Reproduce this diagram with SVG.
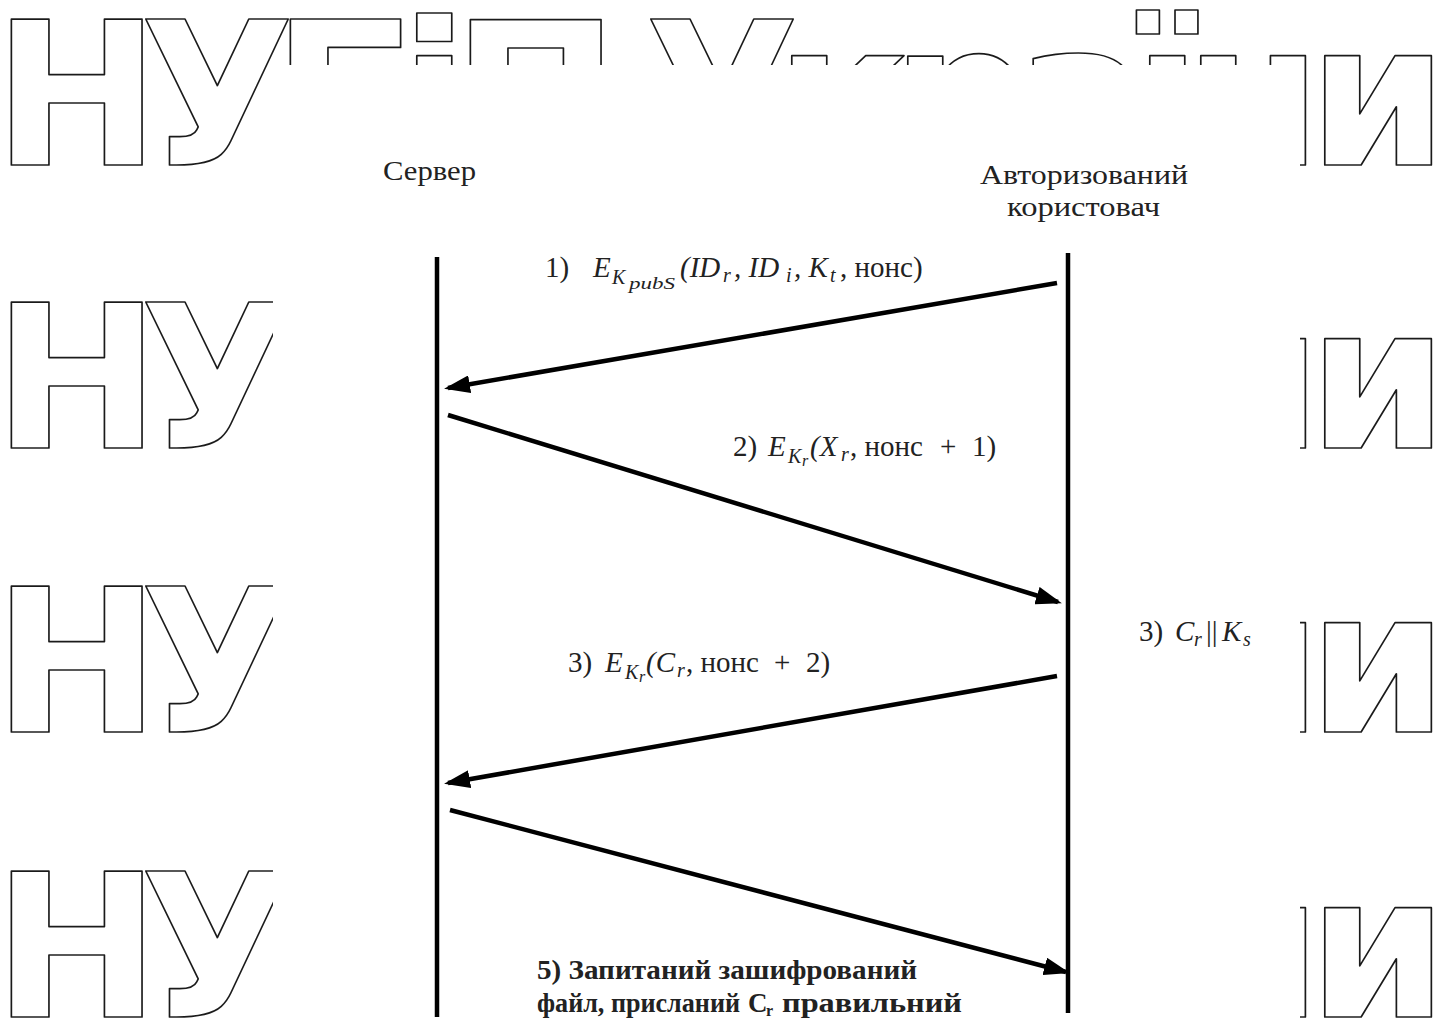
<svg xmlns="http://www.w3.org/2000/svg" width="1453" height="1023" viewBox="0 0 1453 1023">
<style>
.wm{font-family:"DejaVu Sans",sans-serif;font-weight:bold;font-size:200px;fill:none;stroke:#1a1a1a;stroke-width:1.7;stroke-linejoin:round}
.t{font-family:"Liberation Serif",serif;font-size:27px;fill:#222}
.m{font-family:"Liberation Serif",serif;font-size:29px;fill:#222}
.i{font-style:italic}
.s{font-size:20px}
.ss{font-size:16px}
.b{font-weight:bold}
.ll{stroke:#000;stroke-width:4.5;fill:none}
.ar{stroke:#000;stroke-width:4.5;fill:none;marker-end:url(#ah)}
</style>
<defs>
<marker id="ah" markerUnits="userSpaceOnUse" markerWidth="26" markerHeight="18" refX="22" refY="9" orient="auto">
<path d="M0,0 L26,9 L0,18 z" fill="#000"/>
</marker>
<clipPath id="wmclip">
<path clip-rule="evenodd" d="M0,0H1453V1023H0Z M273,65V1023H1300V65Z"/>
</clipPath>
</defs>
<rect width="1453" height="1023" fill="#fff"/>
<g id="watermark" clip-path="url(#wmclip)">
<text class="wm" y="165" x="-7 140">НУ</text>
<text class="wm" y="165" x="272 400 452 560 645 775 891 1015 1133 1184">БіП Україн</text>
<text class="wm" y="165" x="1308">и</text>
<text class="wm" y="448" x="-7 140">НУ</text>
<text class="wm" y="448" x="1184 1308">ни</text>
<text class="wm" y="732" x="-7 140">НУ</text>
<text class="wm" y="732" x="1184 1308">ни</text>
<text class="wm" y="1017" x="-7 140">НУ</text>
<text class="wm" y="1017" x="1184 1308">ни</text>
</g>
<g id="server">
<text class="t" x="383" y="180" textLength="93" lengthAdjust="spacingAndGlyphs">Сервер</text>
<line class="ll" x1="437" y1="257" x2="437" y2="1017"/>
</g>
<g id="user">
<text class="t" x="980" y="184" textLength="208" lengthAdjust="spacingAndGlyphs">Авторизований</text>
<text class="t" x="1007" y="216" textLength="153" lengthAdjust="spacingAndGlyphs">користовач</text>
<line class="ll" x1="1068" y1="253" x2="1068" y2="1013"/>
</g>
<g id="connectors">
<line class="ar" x1="1057" y1="283" x2="448" y2="388"/>
<line class="ar" x1="448" y1="415" x2="1058" y2="602"/>
<line class="ar" x1="1057" y1="676" x2="448" y2="783"/>
<line class="ar" x1="450" y1="810" x2="1066" y2="972"/>
</g>
<g id="labels">
<text class="m" x="545" y="277">1)<tspan class="i" x="593">E</tspan><tspan class="i s" x="612" dy="7">K</tspan><tspan class="i ss" x="629" dy="5" textLength="46" lengthAdjust="spacingAndGlyphs">pubS</tspan><tspan class="i" x="680" dy="-12">(ID</tspan><tspan class="i s" x="723" dy="5">r</tspan><tspan class="i" x="734" dy="-5">, ID</tspan><tspan class="i s" x="786" dy="5">i</tspan><tspan class="i" x="794" dy="-5">, K</tspan><tspan class="i s" x="830" dy="5">t</tspan><tspan x="840" dy="-5">, нонс)</tspan></text>
<text class="m" x="733" y="456">2)<tspan class="i" x="768">E</tspan><tspan class="i s" x="788" dy="7">K</tspan><tspan class="i ss" x="802" dy="3">r</tspan><tspan class="i" x="810" dy="-10">(X</tspan><tspan class="i s" x="841" dy="5">r</tspan><tspan x="850" dy="-5">, нонс</tspan><tspan x="940">+</tspan><tspan x="972">1)</tspan></text>
<text class="m" x="1139" y="641">3)<tspan class="i" x="1175">C</tspan><tspan class="i s" x="1194" dy="5">r</tspan><tspan x="1206" dy="-5">||</tspan><tspan class="i" x="1222">K</tspan><tspan class="i s" x="1243" dy="5">s</tspan></text>
<text class="m" x="568" y="672">3)<tspan class="i" x="605">E</tspan><tspan class="i s" x="625" dy="7">K</tspan><tspan class="i ss" x="639" dy="3">r</tspan><tspan class="i" x="646" dy="-10">(C</tspan><tspan class="i s" x="677" dy="5">r</tspan><tspan x="686" dy="-5">, нонс</tspan><tspan x="774">+</tspan><tspan x="806">2)</tspan></text>
<text class="t b" x="537" y="979" textLength="380" lengthAdjust="spacingAndGlyphs">5) Запитаний зашифрований</text>
<text class="t b" x="537" y="1012"><tspan textLength="203" lengthAdjust="spacingAndGlyphs">файл, присланий</tspan><tspan x="748">C</tspan><tspan class="ss" x="766" dy="4">r</tspan><tspan x="782" dy="-4" textLength="180" lengthAdjust="spacingAndGlyphs">правильний</tspan></text>
</g>
</svg>
